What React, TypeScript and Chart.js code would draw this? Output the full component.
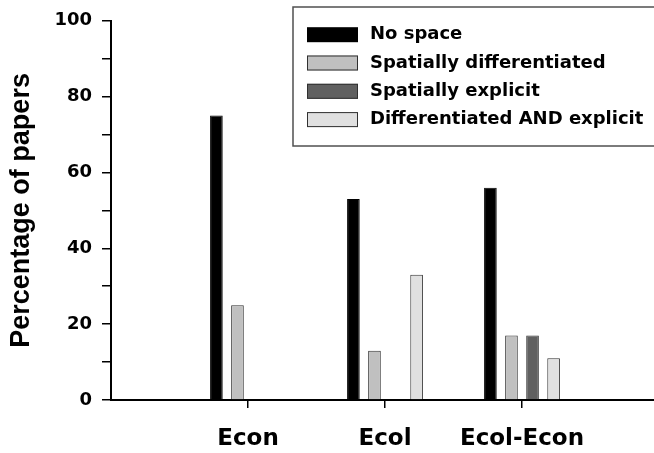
import React, { useEffect, useRef } from 'react';
import { Chart, registerables } from 'chart.js';

Chart.register(...registerables);

// ---- data ----
const categories = ['Econ', 'Ecol', 'Ecol-Econ'];
const seriesNames = [
  'No space',
  'Spatially differentiated',
  'Spatially explicit',
  'Differentiated AND explicit',
];
const noSpace = [75, 53, 56];
const spatiallyDifferentiated = [25, 13, 17];
const spatiallyExplicit = [0, 0, 17];
const differentiatedAndExplicit = [0, 33, 11];
const yTickLabels = [0, 20, 40, 60, 80, 100];

const seriesColors = ['#000000', '#c0c0c0', '#606060', '#e0e0e0'];

const FONT = '"DejaVu Sans", "Liberation Sans", Arial, sans-serif';
const TITLE_FONT = '"Liberation Sans", Arial, sans-serif';

const boxLegend = {
  id: 'boxLegend',
  afterDraw(chart: any) {
    const ctx = chart.ctx as CanvasRenderingContext2D;
    const left = 293;
    const top = 7;
    const bottom = 146;
    ctx.save();
    ctx.lineWidth = 1.5;
    ctx.strokeStyle = '#505050';
    ctx.strokeRect(left, top, chart.width - left + 10, bottom - top);
    chart.data.datasets.forEach((ds: any, i: number) => {
      const cy = 34.7 + i * 28.3;
      ctx.fillStyle = ds.backgroundColor;
      ctx.fillRect(307, cy - 7.5, 51, 15);
      if (i > 0) {
        ctx.lineWidth = 1;
        ctx.strokeStyle = '#303030';
        ctx.strokeRect(307.5, cy - 7, 50, 14);
      }
      ctx.fillStyle = '#000';
      ctx.font = `bold 18px ${FONT}`;
      ctx.textAlign = 'left';
      ctx.textBaseline = 'middle';
      ctx.fillText(ds.label, 370, cy);
    });
    ctx.restore();
  },
};

export default function App() {
  const canvasRef = useRef<HTMLCanvasElement | null>(null);

  useEffect(() => {
    if (!canvasRef.current) return;
    const labels = ['', ...categories, ''];
    const pad = (arr: number[]) => [null, ...arr, null];
    const series = [noSpace, spatiallyDifferentiated, spatiallyExplicit, differentiatedAndExplicit];

    const chart = new Chart(canvasRef.current, {
      type: 'bar',
      data: {
        labels,
        datasets: series.map((s, i) => ({
          label: seriesNames[i],
          data: pad(s) as any,
          backgroundColor: seriesColors[i],
          borderColor: i === 0 ? '#000000' : '#303030',
          borderWidth: 1,
          barPercentage: 0.6,
          categoryPercentage: 0.615,
        })),
      },
      options: {
        animation: false,
        responsive: true,
        maintainAspectRatio: false,
        layout: { padding: { top: 17, left: 0, right: 0, bottom: 0 } },
        plugins: {
          legend: { display: false },
          tooltip: { enabled: false },
        },
        scales: {
          x: {
            type: 'category',
            offset: false,
            grid: {
              offset: false,
              drawOnChartArea: false,
              drawTicks: true,
              tickLength: 8,
              lineWidth: 1.5,
              color: (c: any) =>
                c.index === 0 || c.index === labels.length - 1 ? 'rgba(0,0,0,0)' : '#000',
            },
            border: { display: true, color: '#000', width: 2 },
            ticks: {
              color: '#000',
              font: { family: FONT, size: 23, weight: 'bold' },
              padding: 17,
              maxRotation: 0,
              autoSkip: false,
            },
            afterFit: (scale: any) => {
              scale.height = 53;
              scale.paddingLeft = 0;
              scale.paddingRight = 0;
            },
          },
          y: {
            min: 0,
            max: 100,
            grid: {
              drawOnChartArea: false,
              drawTicks: true,
              tickLength: 9,
              lineWidth: 1.5,
              color: '#000',
            },
            border: { display: true, color: '#000', width: 2 },
            ticks: {
              stepSize: 10,
              color: '#000',
              font: { family: FONT, size: 18, weight: 'bold' },
              padding: 10,
              callback: (v: any) => (yTickLabels.includes(Number(v)) ? String(v) : ''),
            },
            title: {
              display: true,
              text: 'Percentage of papers',
              color: '#000',
              font: { family: TITLE_FONT, size: 27, weight: 'bold' },
              padding: { top: 5, bottom: 0 },
            },
            afterFit: (scale: any) => {
              scale.width = 111;
            },
          },
        },
      },
      plugins: [boxLegend],
    });
    return () => chart.destroy();
  }, []);

  return (
    <div
      style={{
        position: 'fixed',
        left: 0,
        top: 0,
        width: 654,
        height: 453,
        overflow: 'hidden',
        background: '#fff',
      }}
    >
      <div style={{ position: 'relative', width: 659, height: 453 }}>
        <canvas ref={canvasRef} />
      </div>
    </div>
  );
}
